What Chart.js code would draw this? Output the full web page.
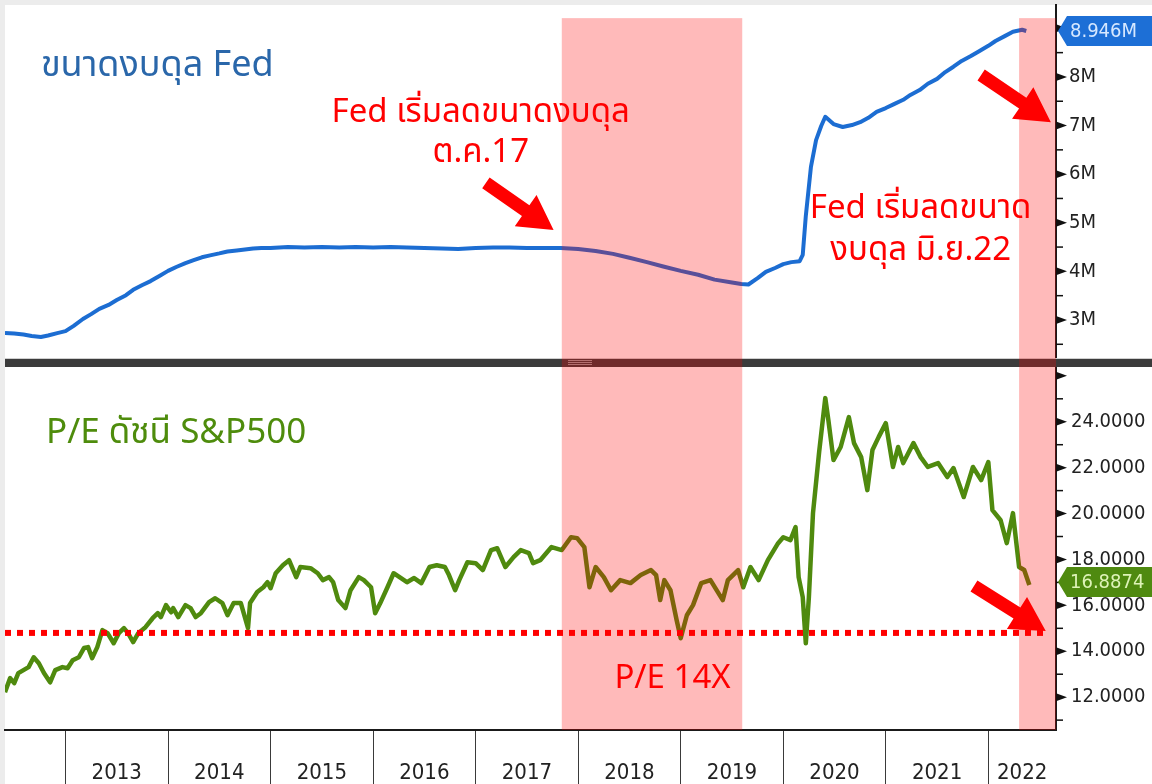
<!DOCTYPE html>
<html>
<head>
<meta charset="utf-8">
<style>
  html, body { margin: 0; padding: 0; background: #fff; }
  #wrap { width: 1152px; height: 784px; }
</style>
<script src="https://cdn.jsdelivr.net/npm/chart.js@4.4.0/dist/chart.umd.min.js"></script>
</head>
<body>
<div id="wrap"><canvas id="chart" width="1152" height="784"></canvas></div>
<script>
// Fed balance sheet (USD trillions, shown as "M" on the axis)
const fedYears = [
  2012.41, 2012.50, 2012.59, 2012.67, 2012.76, 2012.83, 2012.92, 2013.00, 2013.08, 2013.17,
  2013.25, 2013.33, 2013.42, 2013.50, 2013.59, 2013.66, 2013.75, 2013.83, 2013.92, 2014.00,
  2014.08, 2014.17, 2014.25, 2014.33, 2014.41, 2014.50, 2014.58, 2014.67, 2014.75, 2014.83,
  2014.91, 2015.00, 2015.17, 2015.33, 2015.50, 2015.67, 2015.83, 2016.00, 2016.17, 2016.33,
  2016.50, 2016.67, 2016.83, 2017.00, 2017.17, 2017.33, 2017.50, 2017.67, 2017.83, 2018.00,
  2018.17, 2018.34, 2018.50, 2018.67, 2018.83, 2019.00, 2019.17, 2019.33, 2019.50, 2019.59,
  2019.66, 2019.75, 2019.83, 2019.92, 2020.00, 2020.08, 2020.16, 2020.19, 2020.22, 2020.27,
  2020.32, 2020.37, 2020.41, 2020.49, 2020.58, 2020.67, 2020.75, 2020.83, 2020.91, 2021.00,
  2021.08, 2021.17, 2021.24, 2021.33, 2021.41, 2021.50, 2021.58, 2021.66, 2021.74, 2021.83,
  2021.91, 2022.00, 2022.07, 2022.16, 2022.24, 2022.33, 2022.37
];
const fedValues = [
  2.73, 2.72, 2.70, 2.67, 2.65, 2.68, 2.73, 2.77, 2.88, 3.02,
  3.12, 3.23, 3.31, 3.41, 3.51, 3.62, 3.72, 3.80, 3.91, 4.01,
  4.09, 4.17, 4.23, 4.29, 4.33, 4.37, 4.41, 4.43, 4.45, 4.47,
  4.48, 4.48, 4.50, 4.49, 4.50, 4.49, 4.50, 4.49, 4.50, 4.49,
  4.48, 4.47, 4.46, 4.48, 4.49, 4.49, 4.48, 4.48, 4.48, 4.46,
  4.42, 4.36, 4.28, 4.19, 4.10, 4.01, 3.93, 3.83, 3.77, 3.74,
  3.73, 3.86, 3.99, 4.07, 4.15, 4.19, 4.21, 4.34, 5.14, 6.15,
  6.70, 6.99, 7.18, 7.03, 6.97, 7.01, 7.07, 7.16, 7.28, 7.36,
  7.44, 7.53, 7.63, 7.73, 7.86, 7.96, 8.10, 8.21, 8.33, 8.43,
  8.53, 8.64, 8.74, 8.84, 8.93, 8.97, 8.946
];

// S&P500 P/E
const peYears = [
  2012.41, 2012.46, 2012.50, 2012.54, 2012.59, 2012.64, 2012.69, 2012.74, 2012.79, 2012.85,
  2012.90, 2012.97, 2013.02, 2013.07, 2013.13, 2013.18, 2013.22, 2013.26, 2013.31, 2013.36,
  2013.41, 2013.47, 2013.52, 2013.57, 2013.61, 2013.66, 2013.71, 2013.78, 2013.85, 2013.90,
  2013.93, 2013.98, 2014.03, 2014.05, 2014.10, 2014.17, 2014.22, 2014.27, 2014.32, 2014.40,
  2014.46, 2014.53, 2014.58, 2014.64, 2014.71, 2014.78, 2014.80, 2014.87, 2014.93, 2014.97,
  2015.00, 2015.05, 2015.12, 2015.18, 2015.25, 2015.29, 2015.39, 2015.46, 2015.51, 2015.57,
  2015.61, 2015.66, 2015.73, 2015.78, 2015.86, 2015.91, 2015.98, 2016.02, 2016.07, 2016.14,
  2016.20, 2016.33, 2016.40, 2016.47, 2016.55, 2016.62, 2016.70, 2016.74, 2016.80, 2016.84,
  2016.92, 2017.00, 2017.07, 2017.15, 2017.21, 2017.29, 2017.37, 2017.44, 2017.52, 2017.56,
  2017.63, 2017.74, 2017.84, 2017.93, 2017.99, 2018.06, 2018.11, 2018.17, 2018.25, 2018.32,
  2018.41, 2018.51, 2018.61, 2018.71, 2018.76, 2018.80, 2018.84, 2018.90, 2018.96, 2019.00,
  2019.06, 2019.12, 2019.20, 2019.29, 2019.41, 2019.46, 2019.56, 2019.61, 2019.68, 2019.76,
  2019.85, 2019.95, 2020.00, 2020.07, 2020.12, 2020.15, 2020.19, 2020.22, 2020.25, 2020.29,
  2020.35, 2020.41, 2020.44, 2020.49, 2020.56, 2020.64, 2020.69, 2020.76, 2020.82, 2020.87,
  2020.93, 2021.00, 2021.07, 2021.12, 2021.17, 2021.27, 2021.34, 2021.41, 2021.51, 2021.60,
  2021.66, 2021.76, 2021.85, 2021.93, 2022.00, 2022.04, 2022.12, 2022.18, 2022.24, 2022.30,
  2022.35, 2022.40
];
const peValues = [
  12.22, 12.83, 12.61, 13.05, 13.18, 13.31, 13.74, 13.48, 13.05, 12.65,
  13.18, 13.31, 13.26, 13.61, 13.74, 14.14, 14.18, 13.70, 14.18, 14.92,
  14.79, 14.35, 14.79, 15.01, 14.79, 14.40, 14.79, 15.05, 15.44, 15.66,
  15.49, 16.01, 15.70, 15.88, 15.49, 16.01, 15.88, 15.49, 15.66, 16.14,
  16.31, 16.10, 15.57, 16.10, 16.10, 15.01, 16.10, 16.58, 16.79, 17.01,
  16.75, 17.40, 17.75, 17.97, 17.23, 17.67, 17.62, 17.40, 17.10, 17.23,
  17.01, 16.23, 15.88, 16.66, 17.23, 17.10, 16.79, 15.66, 16.10, 16.79,
  17.40, 17.01, 17.19, 16.97, 17.67, 17.75, 17.67, 17.32, 16.66, 17.10,
  17.88, 17.84, 17.54, 18.41, 18.49, 17.67, 18.10, 18.41, 18.28, 17.84,
  17.97, 18.54, 18.41, 18.97, 18.93, 18.54, 16.79, 17.67, 17.23, 16.66,
  17.10, 16.97, 17.32, 17.54, 17.32, 16.23, 17.10, 16.66, 15.36, 14.57,
  15.57, 16.01, 16.97, 17.10, 16.23, 17.10, 17.54, 16.79, 17.67, 17.10,
  17.97, 18.71, 18.97, 18.84, 19.41, 17.23, 16.36, 14.35, 16.36, 20.02,
  22.68, 25.03, 24.07, 22.33, 22.90, 24.20, 23.07, 22.46, 21.02, 22.77,
  23.33, 23.94, 22.03, 22.90, 22.20, 23.07, 22.46, 22.03, 22.20, 21.59,
  21.98, 20.72, 22.03, 21.46, 22.24, 20.15, 19.71, 18.71, 20.02, 17.67,
  17.54, 16.8874
];

const yearLabels = ['2013', '2014', '2015', '2016', '2017', '2018', '2019', '2020', '2021', '2022'];
const yearStarts = [2013, 2014, 2015, 2016, 2017, 2018, 2019, 2020, 2021, 2022];
const yearLabelAt = [2013.5, 2014.5, 2015.5, 2016.5, 2017.5, 2018.5, 2019.5, 2020.5, 2021.5, 2022.33];
const fedTicks = [2.5, 3, 3.5, 4, 4.5, 5, 5.5, 6, 6.5, 7, 7.5, 8, 8.5, 9];
const peTicks = [11, 12, 13, 14, 15, 16, 17, 18, 19, 20, 21, 22, 23, 24, 25, 26];
const shadedPeriods = [[2017.84, 2019.60], [2022.30, 2022.66]];
const peFloor = 14.8;
const xMin = 2012.41, xMax = 2022.66;

const FONT_AXIS = "'DejaVu Sans Condensed', 'DejaVu Sans', sans-serif";
const FONT_THAI = "'Noto Sans Thai', 'Noto Sans', sans-serif";

const notes = [
  { text: 'ขนาดงบดุล Fed', x: 2012.76, y: 8.02, axis: 'yFed', color: '#2a67aa', size: 36, align: 'left' },
  { text: 'P/E ดัชนี S&P500', x: 2012.81, y: 23.07, axis: 'yPe', color: '#4e8c0c', size: 35, align: 'left' },
  { text: 'Fed เริ่มลดขนาดงบดุล', x: 2017.05, y: 7.07, axis: 'yFed', color: '#ff0000', size: 33, align: 'center' },
  { text: 'ต.ค.17', x: 2017.05, y: 6.26, axis: 'yFed', color: '#ff0000', size: 33, align: 'center' },
  { text: 'Fed เริ่มลดขนาด', x: 2021.34, y: 5.10, axis: 'yFed', color: '#ff0000', size: 33, align: 'center' },
  { text: 'งบดุล มิ.ย.22', x: 2021.34, y: 4.23, axis: 'yFed', color: '#ff0000', size: 33, align: 'center' },
  { text: 'P/E 14X', x: 2018.92, y: 12.39, axis: 'yPe', color: '#ff0000', size: 33, align: 'center' }
];

const arrows = [
  { from: [2017.10, 5.82], to: [2017.76, 4.85], axis: 'yFed' },
  { from: [2021.93, 8.04], to: [2022.61, 7.07], axis: 'yFed' },
  { from: [2021.86, 16.84], to: [2022.56, 14.88], axis: 'yPe' }
];

const toPoints = (xs, ys) => xs.map((t, i) => ({ x: t, y: ys[i] }));

function drawArrow(c, x1, y1, x2, y2) {
  const dx = x2 - x1, dy = y2 - y1, len = Math.hypot(dx, dy);
  const ux = dx / len, uy = dy / len, px = -uy, py = ux;
  const head = 34, hw = 19, sw = 6.5;
  const bx = x2 - ux * head, by = y2 - uy * head;
  c.beginPath();
  c.moveTo(x1 + px * sw, y1 + py * sw);
  c.lineTo(bx + px * sw, by + py * sw);
  c.lineTo(bx + px * hw, by + py * hw);
  c.lineTo(x2, y2);
  c.lineTo(bx - px * hw, by - py * hw);
  c.lineTo(bx - px * sw, by - py * sw);
  c.lineTo(x1 - px * sw, y1 - py * sw);
  c.closePath();
  c.fill();
}

function drawBadge(c, x, y, h, color, text, textColor) {
  c.fillStyle = color;
  c.beginPath();
  c.moveTo(x, y);
  c.lineTo(x + 9, y - h / 2);
  c.lineTo(1160, y - h / 2);
  c.lineTo(1160, y + h / 2);
  c.lineTo(x + 9, y + h / 2);
  c.closePath();
  c.fill();
  c.fillStyle = textColor;
  c.font = '20px ' + FONT_AXIS;
  c.textAlign = 'left';
  c.textBaseline = 'middle';
  c.fillText(text, x + 12, y + 1);
}

const noPadding = s => {
  s.paddingTop = 0; s.paddingBottom = 0; s.paddingLeft = 0; s.paddingRight = 0;
};

const panelPlugin = {
  id: 'panels',
  beforeDraw(chart) {
    const c = chart.ctx;
    c.save();
    c.fillStyle = '#ffffff';
    c.fillRect(0, 0, chart.width, chart.height);
    c.fillStyle = '#ececec';
    c.fillRect(0, 0, chart.width, 5);
    c.fillRect(0, 0, 5, chart.height);
    c.restore();
  },
  beforeDatasetDraw(chart, args) {
    if (args.index !== 2) return;
    const c = chart.ctx, area = chart.chartArea, x = chart.scales.x;
    const split = chart.scales.yFed.bottom;
    c.save();
    // panel separator
    c.fillStyle = '#cfcfcf';
    c.fillRect(area.left, split - 5, chart.width, 1);
    c.fillStyle = '#3b3b3b';
    c.fillRect(area.left, split - 4, chart.width, 8);
    c.fillStyle = '#9a9a9a';
    for (let i = 0; i < 3; i++) c.fillRect(568, split - 3 + i * 2, 24, 1);
    // shaded periods, drawn over the lines
    const top = chart.scales.yFed.getPixelForValue(9.21);
    c.fillStyle = 'rgba(255, 0, 0, 0.27)';
    shadedPeriods.forEach(([a, b]) => {
      const x1 = x.getPixelForValue(a), x2 = x.getPixelForValue(b);
      c.fillRect(x1, top, x2 - x1, area.bottom - top);
    });
    c.restore();
  },
  afterDatasetsDraw(chart) {
    const c = chart.ctx, x = chart.scales.x;
    c.save();

    // axis tick marks: arrow heads for major, short lines for minor
    ['yFed', 'yPe'].forEach(id => {
      const s = chart.scales[id];
      s.ticks.forEach(t => {
        const py = s.getPixelForValue(t.value);
        const major = id === 'yFed' ? Number.isInteger(t.value) : t.value % 2 === 0;
        c.fillStyle = '#111';
        if (major) {
          c.beginPath();
          c.moveTo(s.left, py - 4);
          c.lineTo(s.left + 11, py);
          c.lineTo(s.left, py + 4);
          c.closePath();
          c.fill();
        } else {
          c.fillRect(s.left, py - 0.75, 7, 1.5);
        }
      });
    });

    notes.forEach(n => {
      c.fillStyle = n.color;
      c.font = n.size + 'px ' + FONT_THAI;
      c.textAlign = n.align;
      c.textBaseline = 'alphabetic';
      c.fillText(n.text, x.getPixelForValue(n.x), chart.scales[n.axis].getPixelForValue(n.y));
    });

    c.fillStyle = '#ff0000';
    arrows.forEach(a => {
      const s = chart.scales[a.axis];
      drawArrow(c, x.getPixelForValue(a.from[0]), s.getPixelForValue(a.from[1]),
        x.getPixelForValue(a.to[0]), s.getPixelForValue(a.to[1]));
    });

    const area = chart.chartArea;
    const lastFed = fedValues[fedValues.length - 1];
    const lastPe = peValues[peValues.length - 1];
    drawBadge(c, area.right + 2, chart.scales.yFed.getPixelForValue(lastFed), 30,
      '#1d6fd6', lastFed.toFixed(3) + 'M', '#d6e8ff');
    drawBadge(c, area.right + 2, chart.scales.yPe.getPixelForValue(lastPe) - 3, 30,
      '#4f8a10', lastPe.toFixed(4), '#def3b8');
    c.restore();
  }
};

new Chart(document.getElementById('chart'), {
  type: 'line',
  data: {
    datasets: [
      {
        label: 'Fed balance sheet',
        data: toPoints(fedYears, fedValues),
        yAxisID: 'yFed',
        borderColor: '#1c6dd2',
        borderWidth: 4,
        pointRadius: 0,
        tension: 0,
        borderJoinStyle: 'round',
        order: 2
      },
      {
        label: 'P/E S&P500',
        data: toPoints(peYears, peValues),
        yAxisID: 'yPe',
        borderColor: '#4f8a0e',
        borderWidth: 4.5,
        pointRadius: 0,
        tension: 0,
        borderJoinStyle: 'round',
        order: 1
      },
      {
        label: 'P/E 14X',
        data: [{ x: xMin, y: peFloor }, { x: 2022.58, y: peFloor }],
        yAxisID: 'yPe',
        borderColor: '#ff0000',
        borderWidth: 6,
        borderDash: [6, 6],
        borderCapStyle: 'butt',
        pointRadius: 0,
        order: 0
      }
    ]
  },
  options: {
    responsive: false,
    animation: false,
    devicePixelRatio: 1,
    layout: { padding: { left: 5, top: 5, right: 0, bottom: 0 } },
    plugins: { legend: { display: false }, tooltip: { enabled: false } },
    scales: {
      x: {
        type: 'linear',
        min: xMin,
        max: xMax,
        afterBuildTicks: s => {
          s.ticks = yearStarts.concat(yearLabelAt).sort((a, b) => a - b).map(v => ({ value: v }));
        },
        afterFit: s => { s.height = 54; noPadding(s); },
        grid: {
          drawOnChartArea: false,
          tickLength: 54,
          tickWidth: 1,
          tickColor: ctx => (ctx.tick && yearStarts.includes(ctx.tick.value)) ? '#3a3a3a' : 'rgba(0,0,0,0)'
        },
        border: { display: true, color: '#1a1a1a', width: 2 },
        ticks: {
          autoSkip: false,
          maxRotation: 0,
          padding: -24,
          color: '#222',
          font: { family: FONT_AXIS, size: 22 },
          callback: v => {
            const i = yearLabelAt.indexOf(v);
            return i >= 0 ? yearLabels[i] : '';
          }
        }
      },
      yFed: {
        type: 'linear',
        position: 'right',
        stack: 'panels',
        stackWeight: 358,
        min: 2.115,
        max: 9.48,
        afterBuildTicks: s => { s.ticks = fedTicks.map(v => ({ value: v })); },
        afterFit: s => { s.width = 96; noPadding(s); },
        grid: { drawOnChartArea: false, drawTicks: false },
        border: { display: true, color: '#1a1a1a', width: 2 },
        ticks: {
          autoSkip: false,
          padding: 13,
          color: '#222',
          font: { family: FONT_AXIS, size: 20 },
          callback: v => (Number.isInteger(v) && v <= 8) ? v + 'M' : ''
        }
      },
      yPe: {
        type: 'linear',
        position: 'right',
        stack: 'panels',
        stackWeight: 367,
        min: 10.57,
        max: 26.56,
        afterBuildTicks: s => { s.ticks = peTicks.map(v => ({ value: v })); },
        afterFit: s => { s.width = 96; noPadding(s); },
        grid: { drawOnChartArea: false, drawTicks: false },
        border: { display: true, color: '#1a1a1a', width: 2 },
        ticks: {
          autoSkip: false,
          padding: 15,
          color: '#222',
          font: { family: FONT_AXIS, size: 20 },
          callback: v => (v % 2 === 0 && v <= 24) ? v.toFixed(4) : ''
        }
      }
    }
  },
  plugins: [panelPlugin]
});
</script>
</body>
</html>
